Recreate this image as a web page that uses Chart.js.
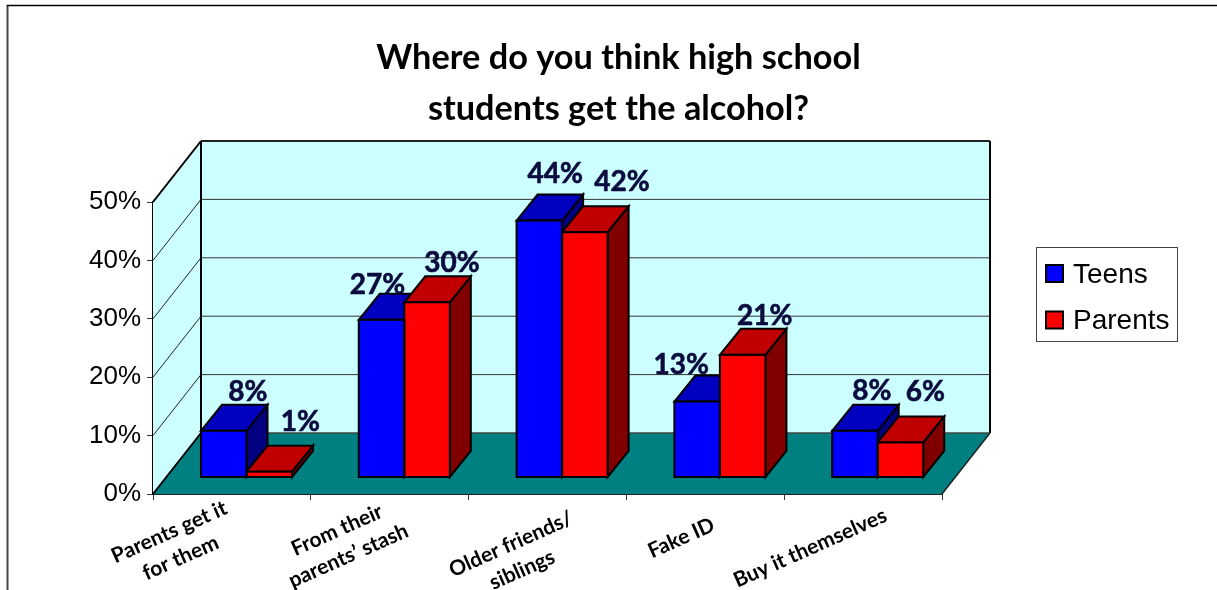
<!DOCTYPE html>
<html>
<head>
<meta charset="utf-8">
<title>Where do you think high school students get the alcohol?</title>
<script src="https://cdn.jsdelivr.net/npm/chart.js@4"></script>
<style>
  html, body { margin: 0; padding: 0; background: #fff; overflow: hidden; }
  #wrap { position: relative; width: 1217px; height: 590px; }
</style>
</head>
<body>
<div id="wrap"><canvas id="alcohol_chart"></canvas></div>
<script>
// data
const categories = [
  ['Parents get it', 'for them'],
  ['From their', 'parents’ stash'],
  ['Older friends/', 'siblings'],
  ['Fake ID'],
  ['Buy it themselves']
];
const teens = [8, 27, 44, 13, 8];
const parents = [1, 30, 42, 21, 6];
const titleLines = ['Where do you think high school', 'students get the alcohol?'];

// 3d look
const wallDepth = { x: 48, y: -61 };
const barShift = { x: 14.6, y: -16.5 };
const barDepth = { x: 21, y: -26 };
const faces = [
  { top: '#0000C0', side: '#000080' },
  { top: '#C00000', side: '#800000' }
];

// hand placed labels (x, y from the front top centre of the bar)
const labelNudge = [
  [[24, -39], [-4, -35], [16, -47], [-16, -37], [17, -40]],
  [[31, -50], [25, -39], [37, -50], [22, -39], [25, -50]]
];
const tickCenter = [
  [-57, 51], [-47, 49], [-31, 63], [-24, 44], [-53, 54]
];

function poly(ctx, pts, fill, width) {
  ctx.beginPath();
  pts.forEach((p, i) => i ? ctx.lineTo(p[0], p[1]) : ctx.moveTo(p[0], p[1]));
  ctx.closePath();
  ctx.fillStyle = fill;
  ctx.fill();
  if (width) {
    ctx.lineWidth = width;
    ctx.strokeStyle = '#000';
    ctx.lineJoin = 'miter';
    ctx.stroke();
  }
}

function line(ctx, x1, y1, x2, y2, color, width) {
  ctx.beginPath();
  ctx.moveTo(x1, y1);
  ctx.lineTo(x2, y2);
  ctx.strokeStyle = color;
  ctx.lineWidth = width;
  ctx.stroke();
}

const threeD = {
  id: 'threeD',
  afterLayout(chart) {
    // title is centred over the whole page, not the plot
    chart.titleBlock.left = 20;
    chart.titleBlock.right = 1217;
  },
  beforeDraw(chart) {
    const ctx = chart.ctx;
    line(ctx, 7.5, 5, 7.5, 590, '#444', 2);
    line(ctx, 7, 5.5, 1217, 5.5, '#000', 1.5);
  },
  beforeDatasetsDraw(chart) {
    const ctx = chart.ctx;
    const a = chart.chartArea;
    const y = chart.scales.y;
    const dx = wallDepth.x, dy = wallDepth.y;

    // walls and floor
    poly(ctx, [[a.left, a.bottom], [a.left + dx, a.bottom + dy], [a.left + dx, a.top + dy], [a.left, a.top]], '#CCFFFF');
    poly(ctx, [[a.left + dx, a.bottom + dy], [a.right + dx, a.bottom + dy], [a.right + dx, a.top + dy], [a.left + dx, a.top + dy]], '#CCFFFF');
    poly(ctx, [[a.left, a.bottom], [a.left + dx, a.bottom + dy], [a.right + dx, a.bottom + dy], [a.right, a.bottom]], '#008080');

    y.ticks.forEach(t => {
      const py = y.getPixelForValue(t.value);
      if (t.value > 0 && t.value < 50) {
        line(ctx, a.left, py, a.left + dx, py + dy, '#222', 1);
        line(ctx, a.left + dx, py + dy, a.right + dx, py + dy, '#333', 1);
      }
    });
    line(ctx, a.left, a.bottom, a.left + dx, a.bottom + dy, '#000', 2);
    line(ctx, a.left, a.top, a.left + dx, a.top + dy, '#000', 2);
    line(ctx, a.left + dx, a.top + dy, a.right + dx, a.top + dy, '#222', 2);
    line(ctx, a.left + dx, a.bottom + dy, a.left + dx, a.top + dy, '#000', 2);
    line(ctx, a.right + dx, a.bottom + dy, a.right + dx, a.top + dy, '#000', 2);
    line(ctx, a.left + dx, a.bottom + dy, a.right + dx, a.bottom + dy, '#444', 1.5);
    line(ctx, a.right, a.bottom, a.right + dx, a.bottom + dy, '#222', 1.5);

    // side and top faces go behind the fronts
    ctx.save();
    ctx.translate(barShift.x, barShift.y);
    [0, 1].forEach(i => {
      chart.getDatasetMeta(i).data.forEach(bar => {
        const l = bar.x - bar.width / 2, r = bar.x + bar.width / 2;
        const t = bar.y, b = bar.base;
        const bx = barDepth.x, by = barDepth.y;
        poly(ctx, [[r, b], [r + bx, b + by], [r + bx, t + by], [r, t]], faces[i].side, 2);
        poly(ctx, [[l, t], [l + bx, t + by], [r + bx, t + by], [r, t]], faces[i].top, 2);
      });
    });
    // the library draws the fronts shifted onto the floor
  },
  afterDatasetsDraw(chart) {
    const ctx = chart.ctx;

    // outline the fronts on their edges, the built in border eats the 1% bar
    ctx.strokeStyle = '#000';
    ctx.lineWidth = 2;
    [0, 1].forEach(i => {
      chart.getDatasetMeta(i).data.forEach(bar => {
        ctx.strokeRect(bar.x - bar.width / 2, bar.y, bar.width, bar.base - bar.y);
      });
    });
    ctx.restore();

    // value labels
    ctx.font = 'bold 28px Lato';
    ctx.fillStyle = '#0B0B3F';
    ctx.strokeStyle = '#0B0B3F';
    ctx.lineWidth = 0.6;
    ctx.textAlign = 'center';
    ctx.textBaseline = 'middle';
    [0, 1].forEach(i => {
      chart.getDatasetMeta(i).data.forEach((bar, j) => {
        const v = chart.data.datasets[i].data[j];
        const n = labelNudge[i][j];
        const tx = bar.x + barShift.x + n[0], ty = bar.y + barShift.y + n[1];
        ctx.fillText(v + '%', tx, ty);
        ctx.strokeText(v + '%', tx, ty);
      });
    });

    // category labels, slanted and centred line by line
    const x = chart.scales.x;
    ctx.font = 'bold 21px Lato';
    ctx.fillStyle = '#000';
    categories.forEach((lines, i) => {
      ctx.save();
      ctx.translate(x.getPixelForValue(i) + tickCenter[i][0], chart.chartArea.bottom + tickCenter[i][1]);
      ctx.rotate(-24 * Math.PI / 180);
      lines.forEach((s, k) => {
        ctx.fillText(s, 0, (k - (lines.length - 1) / 2) * 28);
      });
      ctx.restore();
    });

    // legend box
    ctx.fillStyle = '#fff';
    ctx.fillRect(1036.5, 247.5, 141, 94);
    ctx.strokeStyle = '#444';
    ctx.lineWidth = 1;
    ctx.strokeRect(1036.5, 247.5, 141, 94);
    ctx.font = '28px "Liberation Sans"';
    ctx.textAlign = 'left';
    chart.data.datasets.forEach((ds, i) => {
      const top = 265 + i * 46.5;
      ctx.fillStyle = ds.backgroundColor;
      ctx.fillRect(1046, top, 17, 17);
      ctx.strokeStyle = '#000';
      ctx.lineWidth = 2;
      ctx.strokeRect(1046, top, 17, 17);
      ctx.fillStyle = '#000';
      ctx.fillText(ds.label, 1073, top + 10);
    });
  }
};

const canvas = document.getElementById('alcohol_chart');
canvas.width = 1217;
canvas.height = 590;

const chart = new Chart(canvas.getContext('2d'), {
  type: 'bar',
  data: {
    labels: categories,
    datasets: [
      { label: 'Teens', data: teens, backgroundColor: '#0000FF', borderWidth: 0 },
      { label: 'Parents', data: parents, backgroundColor: '#FF0000', borderWidth: 0 }
    ]
  },
  options: {
    responsive: false,
    animation: false,
    layout: { autoPadding: false, padding: { left: 20, right: 275, top: 0, bottom: 0 } },
    categoryPercentage: 0.577,
    barPercentage: 1,
    plugins: {
      legend: { display: false },
      tooltip: { enabled: false },
      title: {
        display: true,
        text: titleLines,
        color: '#000',
        font: { family: 'Lato', size: 34.3, weight: 'bold', lineHeight: 51 / 34.3 },
        padding: { top: 32.5, bottom: 67.5 }
      }
    },
    scales: {
      x: {
        afterFit(scale) { scale.height = 96; },
        ticks: { display: false },
        grid: { drawOnChartArea: false, tickLength: 6, tickColor: '#333', tickWidth: 1 },
        border: { color: '#222', width: 2 }
      },
      y: {
        min: 0,
        max: 50,
        afterFit(scale) { scale.width = 133; },
        ticks: {
          stepSize: 10,
          padding: 6,
          color: '#000',
          font: { family: 'Liberation Sans', size: 26 },
          callback: v => v + '%'
        },
        grid: { drawOnChartArea: false, tickLength: 6, tickColor: '#333', tickWidth: 1 },
        border: { color: '#000', width: 2 }
      }
    }
  },
  plugins: [threeD]
});
</script>
</body>
</html>
